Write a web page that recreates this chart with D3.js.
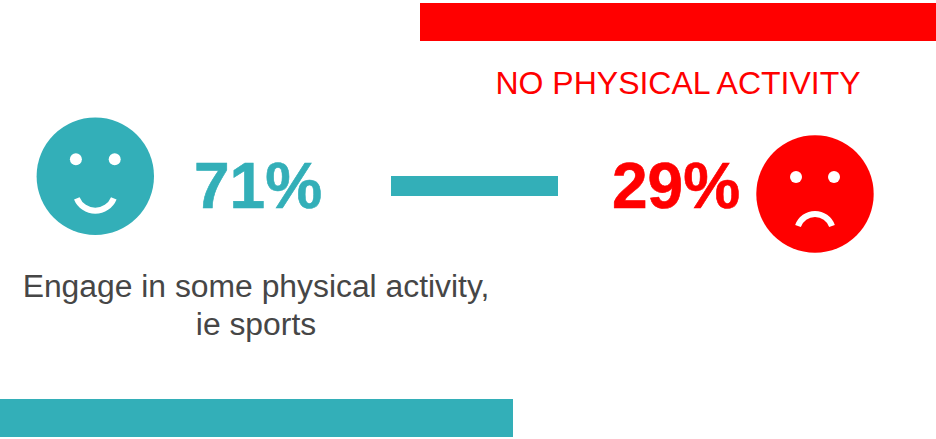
<!DOCTYPE html>
<html>
<head>
<meta charset="utf-8">
<script src="https://cdn.jsdelivr.net/npm/d3@7"></script>
<style>
html,body{margin:0;padding:0;background:#fff}
svg{display:block}
text{font-family:"Liberation Sans",Arial,sans-serif}
.pct{font-weight:700}
</style>
</head>
<body>
<svg id="chart" width="936" height="439"></svg>
<script>
// Share of respondents by activity level
const headline = "NO PHYSICAL ACTIVITY";
const captionLines = ["Engage in some physical activity,", "ie sports"];
const shares = [71, 29];
const teal = "#33afb8";
const red = "#ff0000";
const grey = "#464646";

const svg = d3.select("#chart");

// Header and footer bands
svg.append("rect").attr("x",420).attr("y",3).attr("width",516).attr("height",38).attr("fill",red);
svg.append("rect").attr("x",0).attr("y",399).attr("width",513).attr("height",38).attr("fill",teal);

// Divider between the two groups
svg.append("rect").attr("x",391).attr("y",176).attr("width",167).attr("height",20).attr("fill",teal);

// Face icon: a circle, two eyes and a circular mouth arc
function face(cx, cy, color, eyeY, eyeDx, mouthPath){
  const g = svg.append("g").attr("transform",`translate(${cx},${cy})`);
  g.append("circle").attr("r",58.7).attr("fill",color);
  [-eyeDx,eyeDx].forEach(dx=>g.append("circle").attr("cx",dx).attr("cy",eyeY).attr("r",6).attr("fill","#fff"));
  g.append("path").attr("d",mouthPath).attr("fill","none").attr("stroke","#fff").attr("stroke-width",6);
}
face(95.3,176.3,teal,-17,19.4,"M-18.5,22 A20,20 0 0 0 18.5,22");
face(815,194,red,-17,19,"M-17,32 A18,18 0 0 1 17,32");

// Percentage figures
const pct = v => d3.format(".0f")(v) + "%";
svg.append("text").attr("class","pct").attr("x",258).attr("y",207.5).attr("text-anchor","middle")
  .attr("font-size",64).attr("fill",teal).attr("stroke",teal).attr("stroke-width",0.6).text(pct(shares[0]));
svg.append("text").attr("class","pct").attr("x",676).attr("y",207.5).attr("text-anchor","middle")
  .attr("font-size",64).attr("fill",red).attr("stroke",red).attr("stroke-width",0.6).text(pct(shares[1]));

// Captions
svg.append("text").attr("x",678).attr("y",94).attr("text-anchor","middle")
  .attr("font-size",32).attr("fill",red).text(headline);
svg.selectAll("text.cap").data(captionLines).join("text").attr("class","cap")
  .attr("x",256).attr("y",(d,i)=>297+i*38).attr("text-anchor","middle")
  .attr("font-size",31.85).attr("fill",grey).text(d=>d);
</script>
</body>
</html>
